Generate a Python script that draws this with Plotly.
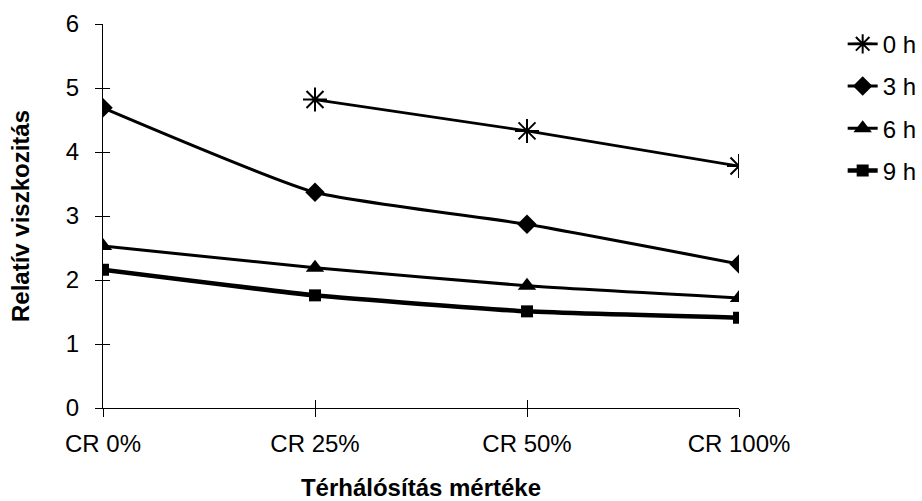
import plotly.graph_objects as go

categories = ["CR 0%", "CR 25%", "CR 50%", "CR 100%"]
s0h = [None, 4.82, 4.33, 3.78]
s3h = [4.69, 3.37, 2.87, 2.25]
s6h = [2.53, 2.19, 1.91, 1.72]
s9h = [2.16, 1.76, 1.51, 1.41]
series_names = ["0 h", "3 h", "6 h", "9 h"]
y_ticks = [0, 1, 2, 3, 4, 5, 6]

fig = go.Figure()
styles = [
    (s0h, "asterisk-open", 20, 2.8, 2),
    (s3h, "diamond", 15, 3, 0),
    (s6h, "triangle-up", 16, 3, 0),
    (s9h, "square", 12, 4.5, 0),
]
for name, (vals, sym, size, lw, mlw) in zip(series_names, styles):
    fig.add_trace(go.Scatter(
        x=categories, y=vals, name=name, mode="lines+markers",
        legendgroup=name,
        line=dict(color="black", width=lw, shape="spline", smoothing=0.5),
        marker=dict(symbol=sym, size=size, color="black",
                    line=dict(color="black", width=mlw)),
    ))

# invisible trace on overlay axes to produce crossing ticks
fig.add_trace(go.Scatter(x=categories, y=[None]*4, xaxis="x2", yaxis="y2",
                         showlegend=False, hoverinfo="skip"))

font = "Arial, Liberation Sans, sans-serif"
fig.update_layout(
    width=922, height=501,
    margin=dict(l=103, r=183, t=24, b=93, autoexpand=False),
    paper_bgcolor="white", plot_bgcolor="white",
    font=dict(family=font, size=24, color="black"),
    xaxis=dict(type="category", range=[0, 3], showgrid=False, zeroline=False,
               showline=True, linecolor="black", linewidth=1, automargin=False,
               ticks="outside", ticklen=8, tickcolor="black",
               tickfont=dict(size=24), ticklabelstandoff=6,
               title=dict(text="<b>Térhálósítás mértéke</b>", font=dict(size=24), standoff=25)),
    yaxis=dict(range=[0, 6], tickvals=y_ticks, showgrid=False, zeroline=False,
               showline=True, linecolor="black", linewidth=1, automargin=False,
               ticks="outside", ticklen=7, tickcolor="black",
               tickfont=dict(size=24), ticklabelstandoff=11,
               title=dict(text="<b>Relatív viszkozitás</b>", font=dict(size=24), standoff=29)),
    xaxis2=dict(type="category", range=[0, 3], overlaying="x", showgrid=False,
                zeroline=False, ticks="inside", ticklen=8, tickcolor="black",
                showticklabels=False, automargin=False),
    yaxis2=dict(range=[0, 6], tickvals=y_ticks, overlaying="y", showgrid=False,
                zeroline=False, ticks="inside", ticklen=7, tickcolor="black",
                showticklabels=False, automargin=False),
    legend=dict(x=1.163, y=1.006, xanchor="left", yanchor="top",
                font=dict(size=24), bgcolor="rgba(0,0,0,0)",
                tracegroupgap=8, itemwidth=30),
    showlegend=True,
)
fig.write_html("out.html", config={"displayModeBar": False})

with open("out.html", "r", encoding="utf-8") as f:
    html = f.read()
html = html.replace("<body>", '<body style="margin:0;padding:0;overflow:hidden">', 1)
with open("out.html", "w", encoding="utf-8") as f:
    f.write(html)
